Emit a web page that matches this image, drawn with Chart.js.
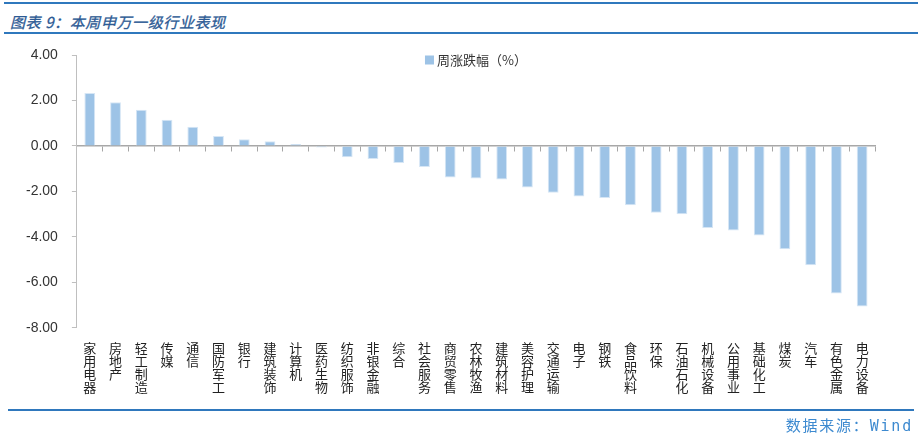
<!DOCTYPE html>
<html>
<head>
<meta charset="utf-8">
<script src="https://cdn.jsdelivr.net/npm/chart.js@4/dist/chart.umd.min.js"></script>
<style>
    html, body { margin: 0; padding: 0; background: #fff; }
    #wrap { position: relative; width: 922px; height: 442px; overflow: hidden; }
    #chart { position: absolute; left: 0; top: 0; }
    .rule { position: absolute; height: 0; border-top: 2px solid #2f78bd; }
    #title {
        position: absolute; left: 10px; top: 11px;
        font: italic 15px "Noto Sans CJK SC", sans-serif;
        color: #2c5a94; letter-spacing: 0.6px; white-space: nowrap;
        -webkit-text-stroke: 0.3px #2c5a94;
    }
    #source {
        position: absolute; right: 9px; top: 414px;
        font: 15px "DejaVu Sans Mono", "Noto Sans CJK SC", monospace;
        color: #3d8ad0; letter-spacing: 1.8px; white-space: nowrap;
    }
</style>
</head>
<body>
<div id="wrap">
    <div class="rule" style="left:4px; right:4px; top:2px;"></div>
    <div id="title">图表 9：本周申万一级行业表现</div>
    <div class="rule" style="left:4px; right:4px; top:32px;"></div>
    <canvas id="chart" width="922" height="442"></canvas>
    <div class="rule" style="left:8px; right:8px; top:409px;"></div>
    <div id="source">数据来源：Wind</div>
</div>
<script>
// industries, ordered as in the picture
const industries = [
    '家用电器', '房地产', '轻工制造', '传媒', '通信', '国防军工', '银行', '建筑装饰',
    '计算机', '医药生物', '纺织服饰', '非银金融', '综合', '社会服务', '商贸零售',
    '农林牧渔', '建筑材料', '美容护理', '交通运输', '电子', '钢铁', '食品饮料', '环保',
    '石油石化', '机械设备', '公用事业', '基础化工', '煤炭', '汽车', '有色金属', '电力设备'
];

// weekly change, %
const weeklyChange = [
    2.33, 1.92, 1.59, 1.15, 0.85, 0.44, 0.30, 0.21,
    0.09, -0.07, -0.50, -0.57, -0.75, -0.92, -1.39,
    -1.43, -1.47, -1.82, -2.06, -2.22, -2.29, -2.60, -2.93,
    -3.00, -3.61, -3.71, -3.93, -4.54, -5.24, -6.48, -7.06
];

const seriesName = '周涨跌幅（%）';
const yMin = -8;
const yMax = 4;
const yStep = 2;

const barColor = '#9dc3e6';

// legend drawn inside the plot, centred near the top (like the Excel original)
const innerLegend = {
    id: 'innerLegend',
    afterDraw(chart) {
        const { ctx, chartArea } = chart;
        const label = chart.data.datasets[0].label;
        ctx.save();
        ctx.font = '13px "Noto Sans CJK SC", sans-serif';
        const box = 9;
        const gap = 3;
        const textW = ctx.measureText(label).width;
        const total = box + gap + textW;
        const cx = (chartArea.left + chartArea.right) / 2;
        const cy = chartArea.top + 5;
        const x0 = cx - total / 2;
        ctx.fillStyle = barColor;
        ctx.fillRect(x0, cy - box / 2, box, box);
        ctx.fillStyle = '#333';
        ctx.textBaseline = 'middle';
        ctx.fillText(label, x0 + box + gap, cy);
        ctx.restore();
    }
};

document.addEventListener('DOMContentLoaded', () => {
    const ctx = document.getElementById('chart').getContext('2d');

    // vertical labels: one character per line
    const stackedLabels = industries.map(name => name.split(''));

    new Chart(ctx, {
        type: 'bar',
        data: {
            labels: stackedLabels,
            datasets: [{
                label: seriesName,
                data: weeklyChange,
                backgroundColor: barColor,
                borderColor: '#d6e6f5',
                borderWidth: 1,
                barPercentage: 0.42,
                categoryPercentage: 1,
                xAxisID: 'x'
            }]
        },
        plugins: [innerLegend],
        options: {
            responsive: false,
            animation: false,
            layout: {
                padding: { left: 12, right: 47, top: 55, bottom: 35 }
            },
            plugins: {
                title: { display: false },
                tooltip: { enabled: false },
                legend: { display: false }
            },
            scales: {
                x: {
                    position: 'bottom',
                    grid: { display: false, drawTicks: false },
                    border: { display: false },
                    ticks: {
                        autoSkip: false,
                        maxRotation: 0,
                        minRotation: 0,
                        padding: 13,
                        color: '#222',
                        font: { family: '"Noto Sans CJK SC", sans-serif', size: 13, lineHeight: 1.02 }
                    }
                },
                // axis line along zero with tick marks between categories
                xZero: {
                    type: 'category',
                    position: { y: 0 },
                    grid: {
                        offset: true,
                        drawOnChartArea: false,
                        drawTicks: true,
                        tickLength: 5,
                        tickColor: '#a6a6a6',
                        color: '#a6a6a6'
                    },
                    border: { display: true, color: '#a8a8a8', width: 1.5 },
                    ticks: { display: false }
                },
                y: {
                    min: yMin,
                    max: yMax,
                    grid: {
                        drawOnChartArea: false,
                        drawTicks: true,
                        tickLength: 5,
                        tickColor: '#bfbfbf'
                    },
                    border: { display: true, color: '#bfbfbf', width: 1 },
                    ticks: {
                        stepSize: yStep,
                        padding: 14,
                        color: '#333',
                        font: { family: '"Liberation Sans", Arial, sans-serif', size: 14 },
                        callback: value => value.toFixed(2)
                    }
                }
            }
        }
    });
});
</script>
</body>
</html>
